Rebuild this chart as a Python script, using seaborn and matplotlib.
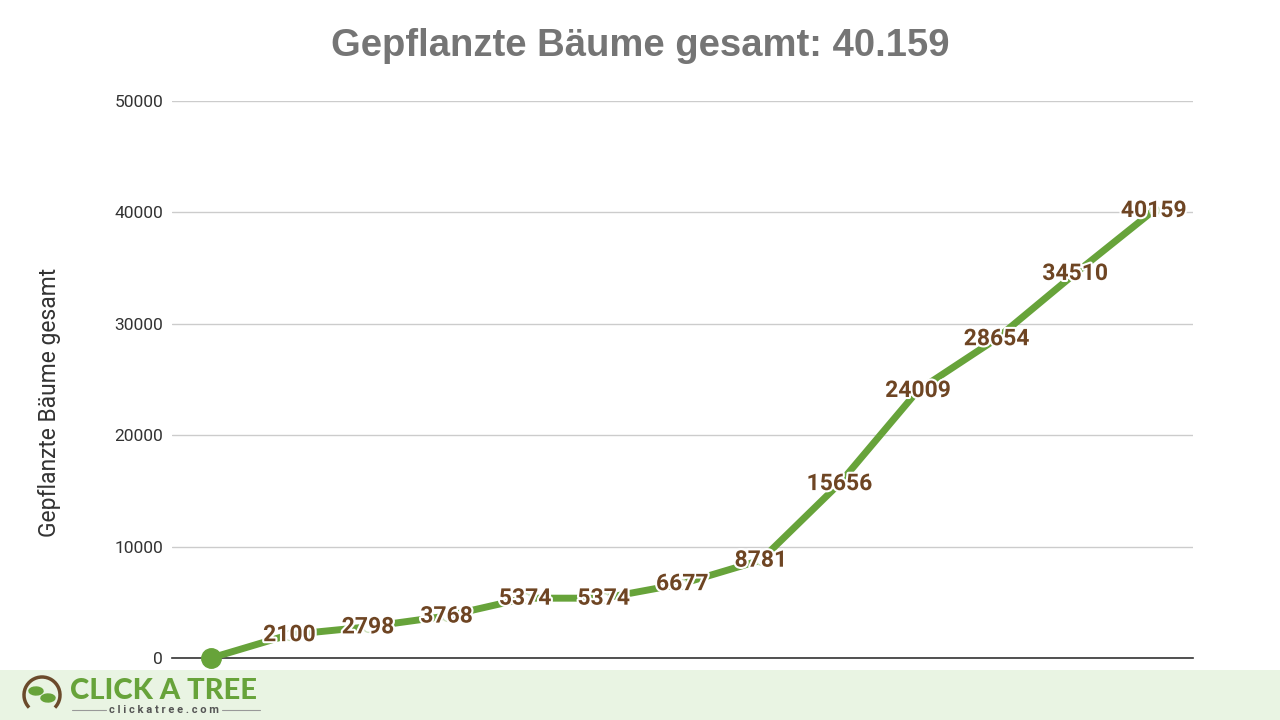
import matplotlib
matplotlib.use("Agg")
import matplotlib.pyplot as plt
import matplotlib.patheffects as pe
from matplotlib.patches import Rectangle, Ellipse, Arc
import pandas as pd
import seaborn as sns

# data
steps = list(range(13))
totals = [0, 2100, 2798, 3768, 5374, 5374, 6677, 8781, 15656, 24009, 28654, 34510, 40159]
labels = ["", "2100", "2798", "3768", "5374", "5374", "6677", "8781",
          "15656", "24009", "28654", "34510", "40159"]
y_ticks = [0, 10000, 20000, 30000, 40000, 50000]

title = "Gepflanzte Bäume gesamt: 40.159"
y_label = "Gepflanzte Bäume gesamt"

GREEN = "#67a33a"
BROWN = "#6e4523"

sns.set_style("white")
plt.rcParams["font.family"] = ["Roboto", "DejaVu Sans"]

df = pd.DataFrame({"step": steps, "total": totals})

fig = plt.figure(figsize=(12.8, 7.2), dpi=100)
ax = fig.add_axes([0.134, 0.086, 0.798, 0.774])

sns.lineplot(data=df, x="step", y="total", ax=ax, color=GREEN, linewidth=5,
             marker="o", markersize=7, markerfacecolor="white",
             markeredgecolor="#cfe3bf", markeredgewidth=1, zorder=3)
# big start dot
ax.plot(steps[0], totals[0], "o", color=GREEN, markersize=14, zorder=4, clip_on=False)

for x, y, t in zip(steps, totals, labels):
    if not t:
        continue
    ax.text(x, y, t, ha="center", va="center", fontsize=16.5, fontweight="bold",
            color=BROWN, zorder=5,
            path_effects=[pe.withStroke(linewidth=3, foreground="white")])

ax.set_xlim(-0.5, 12.5)
ax.set_ylim(0, 50000)
ax.set_yticks(y_ticks)
ax.set_yticklabels([str(v) for v in y_ticks], fontsize=12.5, color="#333333")
ax.set_xticks([])
ax.grid(axis="y", color="#cccccc", linewidth=1)
ax.tick_params(axis="y", length=0, pad=6)
for s in ["top", "right", "left"]:
    ax.spines[s].set_visible(False)
ax.spines["bottom"].set_color("#333333")
ax.spines["bottom"].set_linewidth(1.2)
ax.set_xlabel("")
ax.set_ylabel(y_label, fontsize=16.5, color="#333333")
ax.yaxis.set_label_coords(-0.108, 0.458)

fig.text(0.5, 0.936, title, ha="center", va="center", fontsize=27.5,
         fontweight="bold", color="#757575", family=["Liberation Sans", "DejaVu Sans"])

# bottom banner
fig.patches.append(Rectangle((0, 0), 1, 50 / 720, transform=fig.transFigure,
                             facecolor="#e9f4e3", edgecolor="none", zorder=0))
fig.patches.append(Arc((42 / 1280, 25 / 720), 36 / 1280, 36 / 720, theta1=-60, theta2=240,
                       transform=fig.transFigure, color="#6b4a2b", linewidth=2.5))
fig.patches.append(Ellipse((36 / 1280, 29 / 720), 14 / 1280, 8 / 720, angle=30,
                           transform=fig.transFigure, color=GREEN))
fig.patches.append(Ellipse((48 / 1280, 22 / 720), 14 / 1280, 8 / 720, angle=-30,
                           transform=fig.transFigure, color=GREEN))
fig.text(164 / 1280, 29 / 720, "CLICK A TREE", ha="center", va="center", fontsize=21,
         fontweight="black", color=GREEN, family=["Lato", "DejaVu Sans"])
fig.text(164 / 1280, 10 / 720, "c l i c k a t r e e . c o m", ha="center", va="center",
         fontsize=8, fontweight="bold", color="#555555")
fig.lines.append(plt.Line2D([72 / 1280, 106 / 1280], [10 / 720, 10 / 720],
                            transform=fig.transFigure, color="#999999", linewidth=0.8))
fig.lines.append(plt.Line2D([222 / 1280, 260 / 1280], [10 / 720, 10 / 720],
                            transform=fig.transFigure, color="#999999", linewidth=0.8))

fig.savefig("out.png", dpi=100)
